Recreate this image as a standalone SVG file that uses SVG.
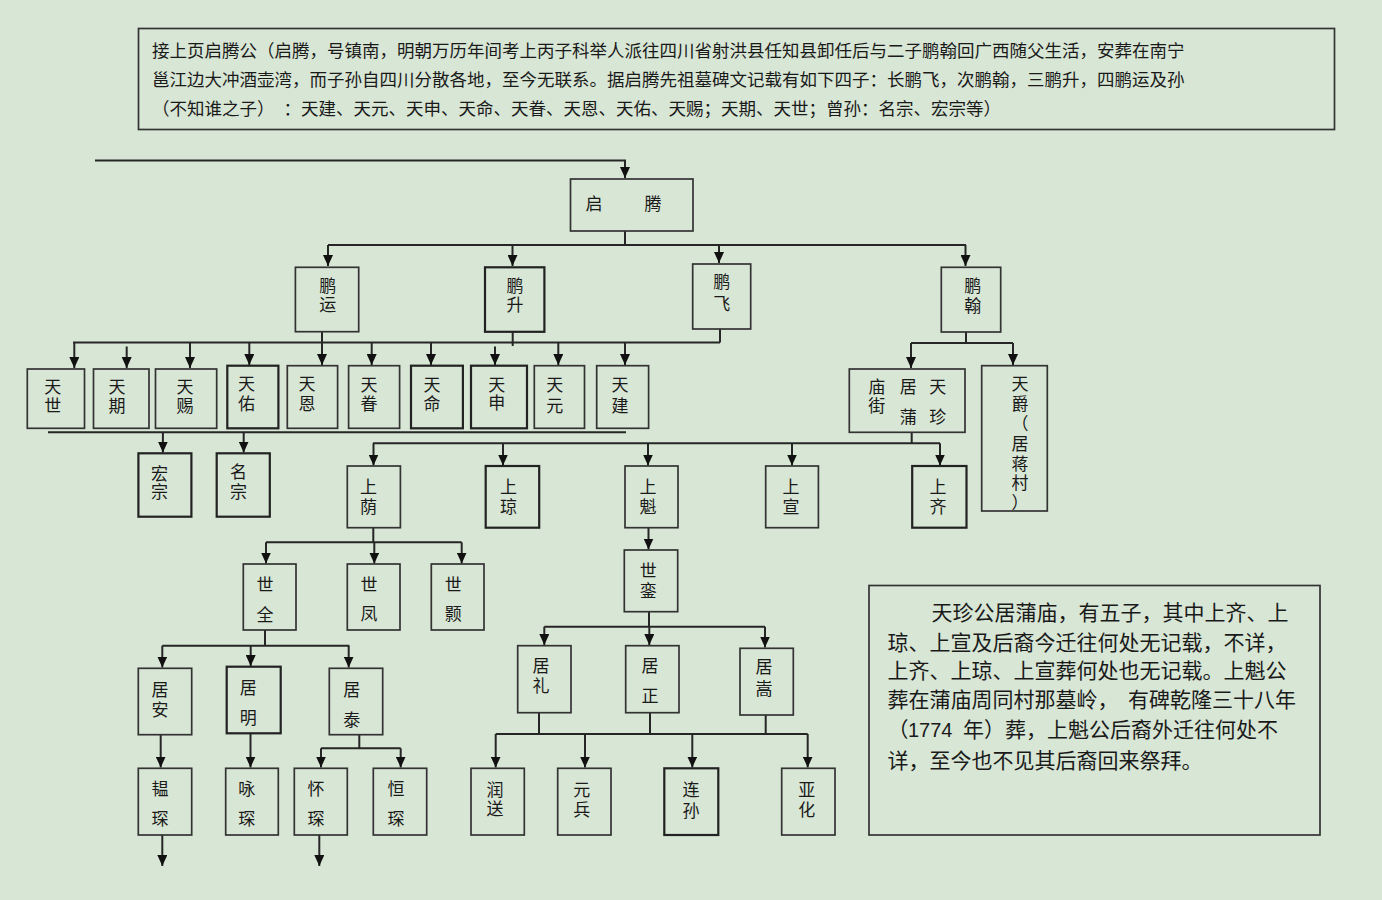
<svg xmlns="http://www.w3.org/2000/svg" width="1382" height="900" viewBox="0 0 1382 900">
<defs>
<style>
.b{fill:none;stroke:#333;stroke-width:1.7}
.bb{fill:none;stroke:#222;stroke-width:2.2}
.t{font-family:"Noto Sans CJK SC","Noto Sans CJK JP",sans-serif;font-size:17px;fill:#1a1a1a;text-anchor:middle}
.p{font-family:"Noto Sans CJK SC","Noto Sans CJK JP",sans-serif;fill:#1a1a1a}
.c{fill:none;stroke:#262626;stroke-width:2}
.a{marker-end:url(#ah)}
</style>
<marker id="ah" viewBox="0 0 11 10" refX="11" refY="5" markerWidth="11" markerHeight="10" markerUnits="userSpaceOnUse" orient="auto">
<path d="M0,0L11,5L0,10z" fill="#111"/>
</marker>
</defs>
<rect width="1382" height="900" fill="#d8e6d5"/>

<g id="header">
<rect class="b" x="138.5" y="28.5" width="1196" height="101"/>
<text class="p" font-size="17.5" x="152" y="57">接上页启腾公（启腾，号镇南，明朝万历年间考上丙子科举人派往四川省射洪县任知县卸任后与二子鹏翰回广西随父生活，安葬在南宁</text>
<text class="p" font-size="17.5" x="152" y="86">邕江边大冲酒壶湾，而子孙自四川分散各地，至今无联系。据启腾先祖墓碑文记载有如下四子：长鹏飞，次鹏翰，三鹏升，四鹏运及孙</text>
<text class="p" font-size="17.5" y="115"><tspan x="152">（不知谁之子）</tspan><tspan x="283.5">：天建、天元、天申、天命、天眷、天恩、天佑、天赐；天期、天世；曾孙：名宗、宏宗等）</tspan></text>
</g>

<g id="connectors">
<path class="c a" d="M95,160.5H625V178"/>
<path class="c" d="M625,231V245M328,245H966"/>
<path class="c a" d="M328,245V266"/>
<path class="c a" d="M512.5,245V266"/>
<path class="c a" d="M719,245V263"/>
<path class="c a" d="M965.5,245V266"/>

<path class="c" d="M73,342.5H720M720,329V342.5M512.7,332V346"/>
<path class="c a" d="M322,332V365"/>
<path class="c a" d="M74.3,342.5V368"/>
<path class="c a" d="M126.7,346.5V368"/>
<path class="c a" d="M190,342.5V368"/>
<path class="c a" d="M249.3,342.5V365"/>
<path class="c a" d="M371.7,342.5V365"/>
<path class="c a" d="M431,342.5V365"/>
<path class="c a" d="M495,346.5V365"/>
<path class="c a" d="M558.3,342.5V365"/>
<path class="c a" d="M625,342.5V365"/>

<path class="c" d="M48,432.3H626"/>
<path class="c a" d="M162.9,432.3V452.5"/>
<path class="c a" d="M243.7,432.3V452.5"/>

<path class="c" d="M966,332V343M911,343H1013"/>
<path class="c a" d="M911,343V368"/>
<path class="c a" d="M1013,343V365"/>

<path class="c" d="M911.7,432.3V443.3M373,443.3H940"/>
<path class="c a" d="M373.5,443.3V465.5"/>
<path class="c a" d="M503,443.3V465.5"/>
<path class="c a" d="M648,443.3V465.5"/>
<path class="c a" d="M792,443.3V465.5"/>
<path class="c a" d="M940,443.3V465.5"/>

<path class="c" d="M373.3,527.7V542.3M266,542.3H461.7"/>
<path class="c a" d="M266,542.3V563.5"/>
<path class="c a" d="M374.3,542.3V563.5"/>
<path class="c a" d="M461.7,542.3V563.5"/>

<path class="c a" d="M648.5,527.7V549.5"/>

<path class="c" d="M265,630V645.7M162.3,645.7H349.3"/>
<path class="c a" d="M162.3,645.7V667.5"/>
<path class="c a" d="M250.7,645.7V666"/>
<path class="c a" d="M348.7,645.7V667.5"/>

<path class="c a" d="M160.7,734.7V767.5"/>
<path class="c a" d="M250.5,733.3V767.5"/>
<path class="c" d="M359.3,734.7V748.3M321,748.3H400.7"/>
<path class="c a" d="M321,748.3V767.5"/>
<path class="c a" d="M400.7,748.3V767.5"/>
<path class="c a" d="M162.3,835V866"/>
<path class="c a" d="M319.3,835V866"/>

<path class="c" d="M649,611.7V626.7M544.3,626.7H765"/>
<path class="c a" d="M544.3,626.7V645"/>
<path class="c a" d="M649.3,626.7V645"/>
<path class="c a" d="M765,626.7V647.5"/>

<path class="c" d="M539,712.7V734M650,712.7V734M765.7,715V734M495.7,734H807.7"/>
<path class="c a" d="M495.7,734V767.5"/>
<path class="c a" d="M585,734V767.5"/>
<path class="c a" d="M692.3,734V767.5"/>
<path class="c a" d="M807.7,734V767.5"/>
</g>

<g id="n-qiteng"><rect class="b" x="570.5" y="179" width="122.5" height="52"/><text class="t" font-size="21" y="209.5"><tspan x="594">启</tspan><tspan x="653">腾</tspan></text></g>

<g id="n-pengyun"><rect class="b" x="295.4" y="267.3" width="63.3" height="64.4"/><text class="t" x="327.8"><tspan y="291.5">鹏</tspan><tspan x="327.8" y="310.8">运</tspan></text></g>
<g id="n-pengsheng"><rect class="bb" x="485" y="267.3" width="59.4" height="64.5"/><text class="t" x="515"><tspan y="291.5">鹏</tspan><tspan x="515" y="310.5">升</tspan></text></g>
<g id="n-pengfei"><rect class="b" x="692.7" y="264" width="58" height="65"/><text class="t" x="721.7"><tspan y="288.2">鹏</tspan><tspan x="721.7" y="309.5">飞</tspan></text></g>
<g id="n-penghan"><rect class="b" x="941.3" y="267.3" width="59.4" height="64.7"/><text class="t" x="972.7"><tspan y="291.5">鹏</tspan><tspan x="972.7" y="311.5">翰</tspan></text></g>

<g id="n-tianshi"><rect class="b" x="27.3" y="369" width="57.2" height="59.3"/><text class="t" x="52.7"><tspan y="393.2">天</tspan><tspan x="52.7" y="412.2">世</tspan></text></g>
<g id="n-tianqi"><rect class="b" x="93.5" y="369" width="55.5" height="59.3"/><text class="t" x="117"><tspan y="393.2">天</tspan><tspan x="117" y="412.2">期</tspan></text></g>
<g id="n-tianci"><rect class="b" x="155.5" y="369" width="61.2" height="59.3"/><text class="t" x="185"><tspan y="393.2">天</tspan><tspan x="185" y="412.2">赐</tspan></text></g>
<g id="n-tianyou"><rect class="bb" x="227.3" y="365.7" width="51.1" height="62.6"/><text class="t" x="246.5"><tspan y="389.8">天</tspan><tspan x="246.5" y="409.8">佑</tspan></text></g>
<g id="n-tianen"><rect class="b" x="287.3" y="365.7" width="50.3" height="62.6"/><text class="t" x="307"><tspan y="389.8">天</tspan><tspan x="307" y="409.8">恩</tspan></text></g>
<g id="n-tianjuan"><rect class="b" x="348.6" y="365.7" width="51" height="62.6"/><text class="t" x="369"><tspan y="390.5">天</tspan><tspan x="369" y="410">眷</tspan></text></g>
<g id="n-tianming"><rect class="bb" x="411" y="365.7" width="51.9" height="62.6"/><text class="t" x="432"><tspan y="390.5">天</tspan><tspan x="432" y="410">命</tspan></text></g>
<g id="n-tianshen"><rect class="bb" x="471" y="365.7" width="56" height="62.6"/><text class="t" x="496.7"><tspan y="390.5">天</tspan><tspan x="496.7" y="408.5">申</tspan></text></g>
<g id="n-tianyuan"><rect class="b" x="534.3" y="365.7" width="50.2" height="62.6"/><text class="t" x="554.7"><tspan y="390.5">天</tspan><tspan x="554.7" y="411.5">元</tspan></text></g>
<g id="n-tianjian"><rect class="b" x="596.7" y="365.7" width="51.9" height="62.6"/><text class="t" x="620"><tspan y="390.5">天</tspan><tspan x="620" y="411.5">建</tspan></text></g>

<g id="n-hongzong"><rect class="bb" x="138.4" y="453.3" width="53" height="63.4"/><text class="t" x="159.6"><tspan y="479.5">宏</tspan><tspan x="159.6" y="498.2">宗</tspan></text></g>
<g id="n-mingzong"><rect class="bb" x="216.7" y="453.3" width="53.1" height="63.4"/><text class="t" x="238.4"><tspan y="478.2">名</tspan><tspan x="238.4" y="498.2">宗</tspan></text></g>

<g id="n-tianzhen"><rect class="b" x="849.3" y="369" width="115.7" height="63.3"/>
<text class="t" x="876.7"><tspan y="393.2">庙</tspan><tspan x="876.7" y="412.2">街</tspan></text>
<text class="t" x="908.3"><tspan y="393.2">居</tspan><tspan x="908.3" y="423.2">蒲</tspan></text>
<text class="t" x="937.7"><tspan y="393.2">天</tspan><tspan x="937.7" y="423.2">珍</tspan></text></g>
<g id="n-tianjue"><rect class="b" x="981.7" y="365.7" width="65.6" height="145.3"/>
<text class="t" x="1020"><tspan y="389.5">天</tspan><tspan x="1020" y="409.5">爵</tspan><tspan x="1020" y="429.5">（</tspan><tspan x="1020" y="449.5">居</tspan><tspan x="1020" y="469.5">蒋</tspan><tspan x="1020" y="488.5">村</tspan><tspan x="1020" y="508.5">）</tspan></text></g>

<g id="n-shangyin"><rect class="b" x="347.3" y="466" width="53.1" height="61.7"/><text class="t" x="368.6"><tspan y="493.2">上</tspan><tspan x="368.6" y="512.5">荫</tspan></text></g>
<g id="n-shangqiong"><rect class="bb" x="485.7" y="466" width="53.5" height="61.7"/><text class="t" x="508.6"><tspan y="493.2">上</tspan><tspan x="508.6" y="512.5">琼</tspan></text></g>
<g id="n-shangkui"><rect class="b" x="625" y="466" width="53" height="61.7"/><text class="t" x="648"><tspan y="493.2">上</tspan><tspan x="648" y="512.5">魁</tspan></text></g>
<g id="n-shangxuan"><rect class="b" x="765.7" y="466" width="52.7" height="61.7"/><text class="t" x="791"><tspan y="493.2">上</tspan><tspan x="791" y="512.5">宣</tspan></text></g>
<g id="n-shangqi"><rect class="bb" x="912.2" y="466" width="54.3" height="61.7"/><text class="t" x="938"><tspan y="493.2">上</tspan><tspan x="938" y="512.5">齐</tspan></text></g>

<g id="n-shiquan"><rect class="b" x="243.3" y="564" width="52.7" height="66"/><text class="t" x="265"><tspan y="590.8">世</tspan><tspan x="265" y="620.5">全</tspan></text></g>
<g id="n-shifeng"><rect class="b" x="347.3" y="564" width="52.7" height="66"/><text class="t" x="369"><tspan y="590.8">世</tspan><tspan x="369" y="620">凤</tspan></text></g>
<g id="n-shihao"><rect class="b" x="431.3" y="564" width="52.7" height="66"/><text class="t" x="453.3"><tspan y="590.8">世</tspan><tspan x="453.3" y="620">颢</tspan></text></g>
<g id="n-shiluan"><rect class="b" x="624.3" y="550" width="53.4" height="61.7"/><text class="t" x="648.3"><tspan y="576.5">世</tspan><tspan x="648.3" y="596.5">銮</tspan></text></g>

<g id="n-juan"><rect class="b" x="138.3" y="668.3" width="53.4" height="66.4"/><text class="t" x="160"><tspan y="695.8">居</tspan><tspan x="160" y="715.8">安</tspan></text></g>
<g id="n-juming"><rect class="bb" x="226.7" y="666.7" width="54" height="66.6"/><text class="t" x="248.3"><tspan y="693.8">居</tspan><tspan x="248.3" y="723.8">明</tspan></text></g>
<g id="n-jutai"><rect class="b" x="329.3" y="668.3" width="53.4" height="66.4"/><text class="t" x="351.7"><tspan y="695.8">居</tspan><tspan x="351.7" y="725.8">泰</tspan></text></g>
<g id="n-juli"><rect class="b" x="517.7" y="645.7" width="53.3" height="67"/><text class="t" x="541"><tspan y="671.5">居</tspan><tspan x="541" y="691.5">礼</tspan></text></g>
<g id="n-juzheng"><rect class="b" x="625.7" y="645.7" width="53.3" height="67"/><text class="t" x="650"><tspan y="671.5">居</tspan><tspan x="650" y="701.5">正</tspan></text></g>
<g id="n-jusong"><rect class="b" x="740" y="648.3" width="53.3" height="66.7"/><text class="t" x="764"><tspan y="673.2">居</tspan><tspan x="764" y="694.8">嵩</tspan></text></g>

<g id="n-yunchen"><rect class="b" x="138.3" y="768.3" width="53.4" height="66.7"/><text class="t" x="160"><tspan y="794.8">韫</tspan><tspan x="160" y="824.8">琛</tspan></text></g>
<g id="n-yongchen"><rect class="b" x="225.7" y="768.3" width="52.6" height="66.7"/><text class="t" x="246.7"><tspan y="794.5">咏</tspan><tspan x="246.7" y="824.5">琛</tspan></text></g>
<g id="n-huaichen"><rect class="b" x="294.3" y="768.3" width="53" height="66.7"/><text class="t" x="316"><tspan y="794.5">怀</tspan><tspan x="316" y="824.5">琛</tspan></text></g>
<g id="n-hengchen"><rect class="b" x="373.3" y="768.3" width="53.4" height="66.7"/><text class="t" x="396"><tspan y="794.5">恒</tspan><tspan x="396" y="824.5">琛</tspan></text></g>
<g id="n-runsong"><rect class="b" x="471" y="768.3" width="53.3" height="66.7"/><text class="t" x="495"><tspan y="795.8">润</tspan><tspan x="495" y="814.8">送</tspan></text></g>
<g id="n-yuanbing"><rect class="b" x="557.7" y="768.3" width="53.3" height="66.7"/><text class="t" x="581.7"><tspan y="795.5">元</tspan><tspan x="581.7" y="815.5">兵</tspan></text></g>
<g id="n-liansun"><rect class="bb" x="664.3" y="768.3" width="54" height="66.7"/><text class="t" x="691"><tspan y="795.5">连</tspan><tspan x="691" y="816.5">孙</tspan></text></g>
<g id="n-yahua"><rect class="b" x="781.7" y="768.3" width="53.3" height="66.7"/><text class="t" x="806.7"><tspan y="795.5">亚</tspan><tspan x="806.7" y="815.5">化</tspan></text></g>

<g id="note">
<rect class="b" x="869" y="585.5" width="451" height="249.5"/>
<text class="p" font-size="21" x="931.5" y="620">天珍公居蒲庙，有五子，其中上齐、上</text>
<text class="p" font-size="21" x="887.5" y="650">琼、上宣及后裔今迁往何处无记载，不详，</text>
<text class="p" font-size="21" x="887.5" y="678">上齐、上琼、上宣葬何处也无记载。上魁公</text>
<text class="p" font-size="21" y="707"><tspan x="887.5">葬在蒲庙周同村那墓岭，</tspan><tspan x="1128">有碑乾隆三十八年</tspan></text>
<text class="p" font-size="21" y="737"><tspan x="887.5">（</tspan><tspan x="908" font-family="Liberation Sans, Arial, sans-serif" font-size="20">1774</tspan><tspan x="963">年）葬，上魁公后裔外迁往何处不</tspan></text>
<text class="p" font-size="21" x="887.5" y="768">详，至今也不见其后裔回来祭拜。</text>
</g>
</svg>
